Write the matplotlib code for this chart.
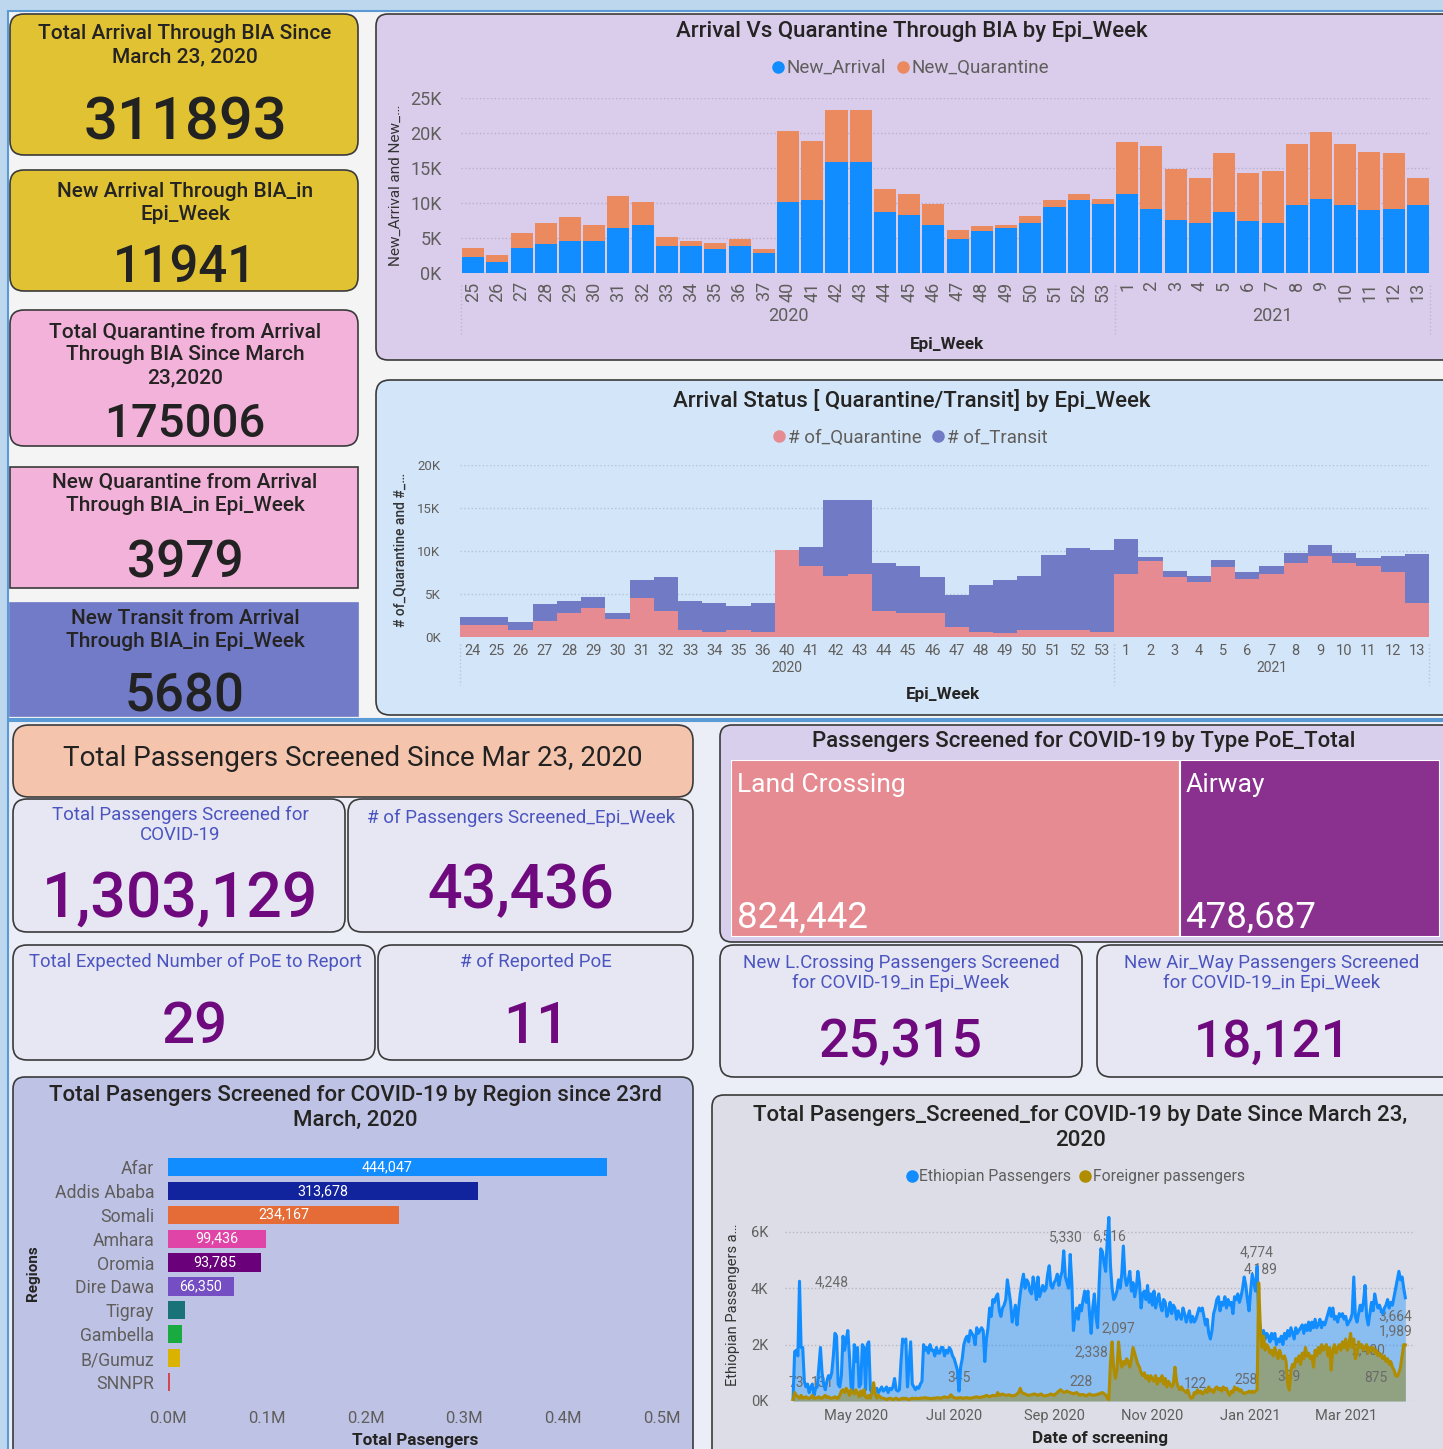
import numpy as np
import matplotlib.pyplot as plt
from matplotlib.patches import FancyBboxPatch, Rectangle
from matplotlib.lines import Line2D
from matplotlib.ticker import FuncFormatter
import matplotlib.dates as mdates

plt.rcParams['font.family'] = ['Roboto', 'DejaVu Sans']

W, H = 1443, 1449

# --- Arrival vs Quarantine (BIA) ---
weeks_1 = [str(w) for w in list(range(25, 38)) + list(range(40, 54)) + list(range(1, 14))]
n2020_1 = 27
new_arrival = [2300, 1600, 3600, 4100, 4600, 4600, 6450, 6900, 3900, 3900, 3450, 3900, 2800,
               10100, 10400, 15900, 15900, 8750, 8300, 6900, 4800, 6000, 6450, 7100, 9400, 10400, 9900,
               11300, 9200, 7600, 7100, 8750, 7400, 7100, 9650, 10600, 9650, 9000, 9200, 9659]
new_quarantine = [1300, 900, 2100, 3000, 3400, 2300, 4550, 3200, 1200, 700, 900, 900, 650,
                  10200, 8500, 7400, 7400, 3200, 3000, 3000, 1400, 700, 450, 1000, 1000, 900, 700,
                  7400, 9000, 7200, 6500, 8350, 6900, 7400, 8800, 9500, 8800, 8300, 7900, 3979]

# --- Arrival status (Quarantine / Transit) ---
weeks_2 = [str(w) for w in list(range(24, 37)) + list(range(40, 54)) + list(range(1, 14))]
n2020_2 = 27
of_quarantine = [1350, 1350, 770, 1900, 2800, 3400, 2100, 4500, 3000, 770, 580, 770, 580,
                 10100, 8300, 7150, 7300, 3000, 2800, 2800, 1150, 580, 430, 770, 770, 770, 580,
                 7300, 8800, 7000, 6400, 8100, 6800, 7300, 8600, 9400, 8600, 8300, 7500, 3979]
of_transit = [950, 950, 930, 1900, 1350, 1300, 700, 2100, 4000, 3380, 3370, 2830, 3370,
              50, 2200, 8750, 8600, 5600, 5500, 4200, 3750, 5420, 6170, 6380, 8780, 9530, 9520,
              4150, 550, 700, 750, 900, 700, 1000, 1150, 1300, 1150, 900, 1900, 5680]

# --- Screened by region ---
regions = ['Afar', 'Addis Ababa', 'Somali', 'Amhara', 'Oromia', 'Dire Dawa',
           'Tigray', 'Gambella', 'B/Gumuz', 'SNNPR']
region_totals = [444047, 313678, 234167, 99436, 93785, 66350, 17000, 14000, 12000, 2000]
region_colors = ['#118dff', '#12239e', '#e66c37', '#e044a7', '#6b007b', '#744ec2',
                 '#197278', '#1aab40', '#d9b300', '#d64550']

# --- Screened by PoE type ---
poe_types = ['Land Crossing', 'Airway']
poe_totals = [824442, 478687]
poe_colors = ['#e68b91', '#8a3190']

# --- Daily screening since 2020-03-23 (thousands) ---
start_date = '2020-03-23'
ethiopian = [
    0.07, 1.75, 1.8, 1.6, 4.25, 1.9, 1.9, 0.7, 0.5, 0.6,
    0.3, 0.5, 0.6, 0.2, 0.45, 0.5, 1.2, 1.9, 1.0, 0.6,
    0.4, 0.7, 0.9, 0.8, 1.0, 1.6, 2.4, 2.3, 0.6, 0.5,
    0.9, 2.3, 1.8, 2.2, 2.5, 1.6, 0.5, 0.4, 2.0, 1.4,
    1.9, 0.5, 0.6, 2.0, 1.9, 0.4, 2.0, 2.1, 0.4, 0.3,
    0.5, 0.3, 0.45, 0.3, 0.4, 0.5, 0.35, 0.4, 0.5, 0.3,
    0.45, 0.4, 0.5, 0.8, 0.4, 0.35, 0.4, 1.4, 2.2, 2.1,
    2.2, 0.5, 1.3, 2.1, 0.6, 0.5, 0.4, 0.5, 0.45, 0.6,
    0.7, 2.0, 1.8, 1.9, 1.7, 2.0, 1.8, 1.8, 1.6, 1.9,
    1.7, 1.7, 1.9, 1.9, 1.6, 1.8, 1.7, 1.9, 1.8, 1.6,
    1.5, 1.3, 1.1, 0.35, 1.2, 1.5, 2.0, 2.2, 2.3, 2.1,
    2.5, 2.4, 2.3, 2.0, 2.6, 2.4, 2.5, 2.6, 2.5, 1.4,
    2.2, 2.6, 3.3, 3.0, 3.6, 3.5, 3.7, 3.8, 3.2, 3.0,
    3.3, 3.4, 3.6, 4.3, 3.9, 3.5, 2.8, 3.1, 3.4, 2.7,
    3.3, 3.8, 4.2, 4.5, 4.0, 4.3, 4.2, 3.9, 3.8, 4.4,
    4.1, 3.6, 4.4, 3.7, 3.9, 4.1, 3.9, 4.0, 4.5, 4.8,
    4.1, 4.0, 4.2, 4.3, 4.5, 4.1, 4.4, 4.6, 5.33, 4.4,
    4.2, 4.0, 5.2, 4.2, 2.5, 3.0, 3.3, 2.9, 3.4, 3.2,
    3.6, 3.9, 3.5, 3.9, 3.1, 2.4, 3.3, 3.8, 3.0, 2.6,
    4.2, 5.4, 5.3, 4.9, 4.6, 5.7, 6.516, 4.8, 4.0, 3.6,
    3.7, 3.9, 4.3, 4.0, 4.5, 5.5, 4.4, 4.1, 4.3, 4.6,
    3.9, 4.2, 3.7, 4.0, 4.6, 4.2, 3.3, 3.8, 3.9, 3.6,
    4.1, 3.5, 3.8, 3.4, 3.9, 3.3, 3.6, 3.8, 3.4, 3.2,
    3.6, 3.5, 3.0, 3.2, 3.5, 3.1, 3.4, 3.3, 2.9, 3.2,
    3.0, 2.9, 3.3, 3.1, 2.8, 3.0, 3.2, 2.8, 3.0, 2.8,
    2.9, 3.1, 3.3, 3.2, 3.3, 3.0, 2.7, 2.9, 2.4, 2.2,
    2.5, 3.1, 3.3, 3.6, 3.7, 3.2, 3.5, 3.4, 3.7, 3.3,
    3.6, 3.4, 3.5, 3.1, 3.7, 3.6, 3.8, 3.5, 3.7, 4.0,
    4.4, 4.1, 3.6, 3.2, 3.9, 4.5, 4.2, 3.9, 4.774, 3.0,
    2.6, 2.3, 2.5, 2.2, 2.4, 2.3, 2.1, 2.4, 2.2, 2.4,
    2.0, 2.2, 2.1, 2.3, 2.0, 2.4, 2.2, 2.5, 2.3, 2.6,
    2.4, 2.2, 2.6, 2.4, 2.5, 2.6, 2.7, 2.4, 2.7, 2.5,
    2.8, 2.5, 2.8, 2.6, 2.9, 2.6, 2.7, 2.9, 2.6, 2.8,
    2.7, 2.9, 3.1, 3.3, 3.0, 3.3, 2.9, 3.0, 2.8, 3.1,
    3.0, 3.1, 2.9, 3.0, 2.7, 2.8, 2.9, 3.1, 4.4, 3.0,
    2.8, 3.1, 3.4, 3.2, 3.5, 4.1, 3.0, 2.7, 3.1, 3.5,
    3.2, 3.8, 3.5, 3.3, 3.4, 3.2, 3.1, 3.3, 3.4, 3.6,
    3.3, 3.5, 3.4, 3.7, 4.0, 4.3, 4.6, 4.3, 4.4, 4.0, 3.664]
foreigner = [
    0.05, 0.3, 0.2, 0.15, 0.1, 0.2, 0.1, 0.12, 0.15, 0.1,
    0.1, 0.12, 0.2, 0.1, 0.1, 0.12, 0.15, 0.1, 0.1, 0.15,
    0.2, 0.12, 0.15, 0.1, 0.1, 0.12, 0.15, 0.1, 0.1, 0.2,
    0.35, 0.4, 0.3, 0.45, 0.35, 0.2, 0.4, 0.3, 0.25, 0.4,
    0.3, 0.15, 0.35, 0.2, 0.4, 0.15, 0.1, 0.2, 0.1, 0.3,
    0.65, 0.25, 0.1, 0.2, 0.15, 0.1, 0.1, 0.08, 0.05, 0.08,
    0.1, 0.08, 0.05, 0.08, 0.1, 0.06, 0.05, 0.08, 0.1, 0.08,
    0.1, 0.07, 0.05, 0.08, 0.1, 0.08, 0.1, 0.09, 0.08, 0.1,
    0.1, 0.11, 0.12, 0.1, 0.1, 0.09, 0.08, 0.1, 0.1, 0.11,
    0.12, 0.1, 0.1, 0.13, 0.15, 0.13, 0.12, 0.15, 0.22, 0.15,
    0.12, 0.1, 0.1, 0.11, 0.12, 0.1, 0.1, 0.11, 0.12, 0.1,
    0.1, 0.11, 0.12, 0.14, 0.15, 0.13, 0.12, 0.14, 0.15, 0.17,
    0.2, 0.17, 0.15, 0.18, 0.2, 0.19, 0.18, 0.3, 0.2, 0.22,
    0.25, 0.22, 0.2, 0.21, 0.22, 0.2, 0.18, 0.19, 0.2, 0.25,
    0.3, 0.45, 0.3, 0.27, 0.25, 0.22, 0.2, 0.21, 0.22, 0.24,
    0.25, 0.22, 0.2, 0.23, 0.25, 0.2, 0.18, 0.19, 0.2, 0.22,
    0.25, 0.22, 0.2, 0.25, 0.3, 0.35, 0.4, 0.35, 0.3, 0.32,
    0.35, 0.32, 0.3, 0.28, 0.25, 0.28, 0.3, 0.25, 0.2, 0.228,
    0.23, 0.2, 0.18, 0.22, 0.25, 0.22, 0.2, 0.21, 0.22, 0.24,
    0.25, 0.28, 0.3, 0.26, 0.22, 0.1, 0.05, 1.4, 2.1, 1.2,
    0.8, 1.1, 2.097, 1.5, 1.2, 1.4, 1.3, 1.5, 1.4, 1.2,
    1.5, 1.9, 1.7, 1.5, 1.3, 1.2, 1.0, 0.9, 1.0, 0.8,
    0.9, 0.7, 0.9, 0.8, 0.7, 0.9, 0.6, 0.8, 0.7, 0.9,
    0.6, 0.8, 0.5, 0.7, 0.6, 0.5, 0.6, 1.2, 0.7, 0.5,
    0.4, 0.5, 0.4, 0.35, 0.3, 0.4, 0.2, 0.1, 0.122, 0.3,
    0.25, 0.4, 0.3, 0.35, 0.25, 0.3, 0.4, 0.3, 0.5, 0.35,
    0.4, 0.3, 0.45, 0.5, 0.4, 0.45, 0.35, 0.5, 0.4, 0.45,
    0.3, 0.2, 0.35, 0.3, 0.5, 0.4, 0.45, 0.35, 0.4, 0.3,
    0.258, 0.3, 0.3, 0.35, 0.3, 0.35, 0.3, 0.35, 0.4, 4.189,
    2.6, 1.9, 2.3, 1.8, 2.0, 1.9, 1.7, 1.8, 1.6, 1.9,
    1.7, 1.5, 1.8, 1.6, 1.5, 1.6, 1.4, 0.6, 0.389, 1.1,
    1.3, 1.2, 1.5, 1.4, 1.6, 1.3, 1.7, 1.5, 1.9, 1.6,
    1.7, 1.5, 1.6, 1.2, 1.8, 1.6, 1.9, 1.7, 2.0, 1.8,
    1.9, 2.0, 1.6, 1.9, 1.1, 1.8, 2.0, 1.7, 1.9, 2.0,
    1.8, 2.1, 1.9, 2.2, 1.8, 2.0, 2.4, 1.9, 2.2, 1.5,
    1.7, 2.1, 1.9, 2.0, 1.8, 1.9, 2.0, 1.7, 1.9, 1.8,
    1.9, 1.7, 1.8, 1.6, 1.7, 1.6, 1.5, 1.6, 1.4, 1.5,
    1.3, 1.4, 1.2, 1.1, 0.9, 0.875, 1.0, 1.2, 1.6, 2.0, 1.989]
# data labels shown on the chart: text, day index, height (thousands)
line_labels = [('73', 2, 0.63), ('131', 18, 0.63), ('4,248', 24, 4.21), ('345', 103, 0.81),
               ('5,330', 169, 5.81), ('6,516', 196, 5.85), ('228', 179, 0.66),
               ('2,338', 185, 1.73), ('2,097', 202, 2.58), ('122', 250, 0.59),
               ('258', 281, 0.73), ('4,774', 288, 5.28), ('4,189', 290, 4.67),
               ('389', 308, 0.84), ('2,400', 357, 1.79), ('875', 362, 0.81),
               ('3,664', 374, 3.0), ('1,989', 374, 2.48)]

GREY = '#605e5c'
DARK = '#252423'
BLUE_T = '#4b55c0'
PURP = '#6e0a7e'

fig = plt.figure(figsize=(W / 100, H / 100), dpi=100)
fig.patch.set_facecolor('#bdd7ee')
bg = fig.add_axes([0, 0, 1, 1])
bg.set_xlim(0, W)
bg.set_ylim(H, 0)
bg.axis('off')


def box(x0, y0, x1, y1, fc, r=0, ec='#3a3a3a', lw=1.2):
    if r:
        p = FancyBboxPatch((x0 + r, y0 + r), x1 - x0 - 2 * r, y1 - y0 - 2 * r,
                           boxstyle=f'round,pad={r}', fc=fc, ec=ec, lw=lw)
    else:
        p = Rectangle((x0, y0), x1 - x0, y1 - y0, fc=fc, ec=ec, lw=lw)
    bg.add_patch(p)


def txt(x, y, s, size, color=DARK, weight='normal', ha='center', va='center', **kw):
    bg.text(x, y, s, fontsize=size, color=color, fontweight=weight, ha=ha, va=va, **kw)


def px_axes(x0, y0, x1, y1):
    ax = fig.add_axes([x0 / W, 1 - y1 / H, (x1 - x0) / W, (y1 - y0) / H])
    ax.set_facecolor('none')
    for s in ax.spines.values():
        s.set_visible(False)
    return ax


def dot_legend(ax, colors, labels, anchor, size):
    hs = [Line2D([], [], marker='o', ls='', color=c, markersize=8) for c in colors]
    ax.legend(hs, labels, loc='center', bbox_to_anchor=anchor, ncol=len(hs), frameon=False,
              handlelength=0.6, handletextpad=0.15, columnspacing=0.6, fontsize=size, labelcolor=GREY)


kfmt = FuncFormatter(lambda v, p: f'{v / 1000:.0f}K')

# backgrounds
box(8, 11, 1460, 719, '#f4f4f4', ec='#5b9bd5', lw=1.5)
box(8, 721, 1460, 1470, '#eceef7', ec='#5b9bd5', lw=1.5)

# --- left KPI cards ---
box(10, 14, 358, 155, '#e1c233', r=14)
txt(185, 45, 'Total Arrival Through BIA Since\nMarch 23, 2020', 15, weight='medium', linespacing=1.3)
txt(185, 139, '311893', 43, color='#222222', weight='medium', va='baseline')

box(10, 170, 358, 291, '#e1c233', r=14)
txt(185, 203, 'New Arrival Through BIA_in\nEpi_Week', 15, weight='medium', linespacing=1.3)
txt(185, 282, '11941', 36.5, color='#222222', weight='medium', va='baseline')

box(10, 310, 358, 446, '#f2b2da', r=14)
txt(185, 355, 'Total Quarantine from Arrival\nThrough BIA Since March\n23,2020', 15,
    weight='medium', linespacing=1.28)
txt(185, 437, '175006', 34, color='#222222', weight='medium', va='baseline')

box(10, 467, 358, 588, '#f2b2da')
txt(185, 494, 'New Quarantine from Arrival\nThrough BIA_in Epi_Week', 15, weight='medium', linespacing=1.3)
txt(185, 577, '3979', 37, color='#222222', weight='medium', va='baseline')

box(10, 603, 358, 716, '#717bc7', ec='#717bc7')
txt(185, 630, 'New Transit from Arrival\nThrough BIA_in Epi_Week', 15, weight='medium', linespacing=1.3)
txt(185, 711, '5680', 38, color='#222222', weight='medium', va='baseline')

# --- chart 1: Arrival vs Quarantine ---
box(376, 14, 1470, 360, '#d9cdeb', r=12)
txt(912, 31, 'Arrival Vs Quarantine Through BIA by Epi_Week', 16, weight='medium')
txt(396, 185, 'New_Arrival and New_…', 11, color='#333333', rotation=90)
txt(947, 345, 'Epi_Week', 12.3, weight='bold')

ax1 = px_axes(461, 98, 1430, 273)
x1 = np.arange(len(weeks_1))
ax1.bar(x1, new_arrival, width=0.91, color='#118dff', zorder=3)
ax1.bar(x1, new_quarantine, bottom=new_arrival, width=0.91, color='#eb895f', zorder=3)
ax1.set_xlim(-0.5, len(x1) - 0.5)
ax1.set_ylim(0, 25000)
ax1.set_yticks(range(0, 25001, 5000))
ax1.yaxis.set_major_formatter(kfmt)
ax1.set_xticks(x1)
ax1.set_xticklabels(weeks_1, rotation=90)
ax1.tick_params(length=0, labelsize=13, labelcolor=GREY)
ax1.tick_params(axis='y', pad=14)
ax1.tick_params(axis='x', pad=6)
ax1.grid(axis='y', linestyle=':', color='#b9afcc', lw=1)
ax1.set_axisbelow(True)
xt1 = ax1.get_xaxis_transform()
ax1.text((n2020_1 - 1) / 2, -0.245, '2020', transform=xt1, ha='center', va='center', fontsize=13, color=GREY)
ax1.text((n2020_1 + len(x1) - 1) / 2, -0.245, '2021', transform=xt1, ha='center', va='center',
         fontsize=13, color=GREY)
for xb in [-0.5, n2020_1 - 0.5, len(x1) - 0.5]:
    ax1.plot([xb, xb], [-0.07, -0.36], transform=xt1, clip_on=False, ls=':', color='#bdb3cf', lw=1)
dot_legend(ax1, ['#118dff', '#eb895f'], ['New_Arrival', 'New_Quarantine'], (0.464, 1.171), 13.5)

# --- chart 2: Arrival status ---
box(376, 380, 1470, 715, '#d3e5f8', r=14)
txt(912, 401, 'Arrival Status [ Quarantine/Transit] by Epi_Week', 16, weight='medium')
txt(400, 550, '# of_Quarantine and #_…', 10, color='#333333', weight='medium', rotation=90)
txt(943, 694, 'Epi_Week', 12.3, weight='bold')

ax2 = px_axes(460, 465, 1429, 637)
x2 = np.arange(len(weeks_2))
ax2.bar(x2, of_quarantine, width=1.0, color='#e68b91', zorder=3)
ax2.bar(x2, of_transit, bottom=of_quarantine, width=1.0, color='#717bc5', zorder=3)
ax2.set_xlim(-0.5, len(x2) - 0.5)
ax2.set_ylim(0, 20000)
ax2.set_yticks(range(0, 20001, 5000))
ax2.yaxis.set_major_formatter(kfmt)
ax2.set_xticks(x2)
ax2.set_xticklabels(weeks_2)
ax2.tick_params(length=0, labelcolor=GREY)
ax2.tick_params(axis='y', labelsize=9.5, pad=14)
ax2.tick_params(axis='x', labelsize=10.5, pad=5)
ax2.grid(axis='y', linestyle=':', color='#b3c4d8', lw=1)
ax2.set_axisbelow(True)
xt2 = ax2.get_xaxis_transform()
ax2.text((n2020_2 - 1) / 2, -0.18, '2020', transform=xt2, ha='center', va='center', fontsize=10, color=GREY)
ax2.text((n2020_2 + len(x2) - 1) / 2, -0.18, '2021', transform=xt2, ha='center', va='center',
         fontsize=10, color=GREY)
for xb in [-0.5, n2020_2 - 0.5, len(x2) - 0.5]:
    ax2.plot([xb, xb], [-0.04, -0.28], transform=xt2, clip_on=False, ls=':', color='#b3c4d8', lw=1)
dot_legend(ax2, ['#e68b91', '#717bc5'], ['# of_Quarantine', '# of_Transit'], (0.465, 1.157), 13.5)

# --- bottom left KPI block ---
box(13, 725, 693, 797, '#f5c4ac', r=16)
txt(353, 758, 'Total Passengers Screened Since Mar 23, 2020', 20, color='#222222')

CARD = '#e7e7f3'
box(13, 799, 345, 932, CARD, r=14)
txt(180, 825, 'Total Passengers Screened for\nCOVID-19', 13.5, color=BLUE_T, linespacing=1.1)
txt(180, 917, '1,303,129', 45, color=PURP, weight='medium', va='baseline')

box(348, 799, 693, 932, CARD, r=14)
txt(521, 818, '# of Passengers Screened_Epi_Week', 13.5, color=BLUE_T)
txt(521, 908, '43,436', 44, color=PURP, weight='medium', va='baseline')

box(13, 945, 375, 1060, CARD, r=14)
txt(195, 962, 'Total Expected Number of PoE to Report', 13.3, color=BLUE_T)
txt(195, 1043, '29', 42, color=PURP, weight='medium', va='baseline')

box(378, 945, 693, 1060, CARD, r=14)
txt(536, 962, '# of Reported PoE', 13.5, color=BLUE_T)
txt(536, 1043, '11', 42, color=PURP, weight='medium', va='baseline')

# --- treemap ---
box(720, 725, 1470, 942, '#d7cfec', r=12)
txt(1084, 741, 'Passengers Screened for COVID-19 by Type PoE_Total', 16, weight='medium')
ax3 = px_axes(731, 760, 1440, 937)
left = np.concatenate([[0], np.cumsum(poe_totals)[:-1]])
ax3.bar(left, [1] * len(poe_totals), width=poe_totals, align='edge', color=poe_colors,
        edgecolor='white', lw=1.5)
ax3.set_xlim(0, sum(poe_totals))
ax3.set_ylim(0, 1)
ax3.set_xticks([])
ax3.set_yticks([])
for l0, name, val in zip(left, poe_types, poe_totals):
    ax3.annotate(name, (l0, 0.82), xytext=(4, 0), textcoords='offset points', color='white',
                 fontsize=19, va='baseline', ha='left')
    ax3.annotate(f'{val:,}', (l0, 0.05), xytext=(4, 0), textcoords='offset points', color='white',
                 fontsize=26.5, va='baseline', ha='left')

box(720, 945, 1082, 1077, CARD, r=14)
txt(901, 973, 'New L.Crossing Passengers Screened\nfor COVID-19_in Epi_Week', 13.5, color=BLUE_T,
    linespacing=1.2)
txt(901, 1057, '25,315', 38.5, color=PURP, weight='medium', va='baseline')

box(1097, 945, 1470, 1077, CARD, r=14)
txt(1272, 973, 'New Air_Way Passengers Screened\nfor COVID-19_in Epi_Week', 13.5, color=BLUE_T,
    linespacing=1.2)
txt(1272, 1057, '18,121', 37, color=PURP, weight='medium', va='baseline')

# --- region bar chart ---
box(13, 1077, 693, 1470, '#bec2e4', r=12)
txt(355, 1108, 'Total Pasengers Screened for COVID-19 by Region since 23rd\nMarch, 2020', 16,
    weight='medium', linespacing=1.2)
txt(33, 1273, 'Regions', 11, weight='bold', rotation=90)
txt(415, 1440, 'Total Pasengers', 12.3, weight='bold')
ax5 = px_axes(168, 1155, 662, 1394)
yr = np.arange(len(regions))
ax5.barh(yr, region_totals, height=0.76, color=region_colors)
ax5.set_ylim(len(regions) - 0.5, -0.5)
ax5.set_xlim(0, 500000)
ax5.set_xticks(np.arange(0, 500001, 100000))
ax5.xaxis.set_major_formatter(FuncFormatter(lambda v, p: f'{v / 1e6:.1f}M'))
ax5.set_yticks(yr)
ax5.set_yticklabels(regions)
ax5.tick_params(length=0, labelsize=12, labelcolor=GREY)
ax5.tick_params(axis='y', labelsize=12.7, pad=10)
ax5.tick_params(axis='x', pad=12)
for i, v in enumerate(region_totals):
    if v > 50000:
        ax5.text(v / 2, i, f'{v:,}', color='white', fontsize=10.3, ha='center', va='center')

# --- daily line chart ---
box(712, 1095, 1470, 1470, '#dcdde7', r=12)
txt(1080, 1128, 'Total Pasengers_Screened_for COVID-19 by Date Since March 23,\n2020', 16,
    weight='medium', linespacing=1.2)
txt(733, 1305, 'Ethiopian Passengers a…', 10.5, color='#333333', rotation=90)
txt(1100, 1438, 'Date of screening', 12.3, weight='bold')
ax4 = px_axes(785, 1215, 1415, 1401)
t0 = np.datetime64(start_date)
dates = t0 + np.arange(len(ethiopian)).astype('timedelta64[D]')
eth = np.array(ethiopian) * 1000
frn = np.array(foreigner) * 1000
ax4.fill_between(dates, eth, color='#118dff', alpha=0.4, lw=0, zorder=2)
ax4.fill_between(dates, frn, color='#9a8300', alpha=0.45, lw=0, zorder=2)
for s, d, v in line_labels:
    ax4.text(t0 + np.timedelta64(d, 'D'), v * 1000, s, fontsize=10, color='#6a6a6a',
             ha='center', va='center', zorder=3)
ax4.plot(dates, eth, color='#118dff', lw=2.2, zorder=4)
ax4.plot(dates, frn, color='#b08c00', lw=2.2, zorder=5)
ax4.set_xlim(t0 - np.timedelta64(5, 'D'), t0 + np.timedelta64(386, 'D'))
ax4.set_ylim(0, 6600)
ax4.set_yticks([0, 2000, 4000, 6000])
ax4.yaxis.set_major_formatter(kfmt)
ax4.xaxis.set_major_locator(mdates.MonthLocator(bymonth=[1, 3, 5, 7, 9, 11]))
ax4.xaxis.set_major_formatter(mdates.DateFormatter('%b %Y'))
ax4.tick_params(length=0, labelsize=10.5, labelcolor=GREY)
ax4.tick_params(axis='y', pad=12)
ax4.tick_params(axis='x', pad=6)
ax4.grid(axis='y', linestyle=':', color='#b8b8c4', lw=1)
ax4.set_axisbelow(True)
dot_legend(ax4, ['#118dff', '#b08c00'], ['Ethiopian Passengers', 'Foreigner passengers'],
           (0.462, 1.207), 11.3)

fig.savefig('out.png', dpi=100, facecolor=fig.get_facecolor())
